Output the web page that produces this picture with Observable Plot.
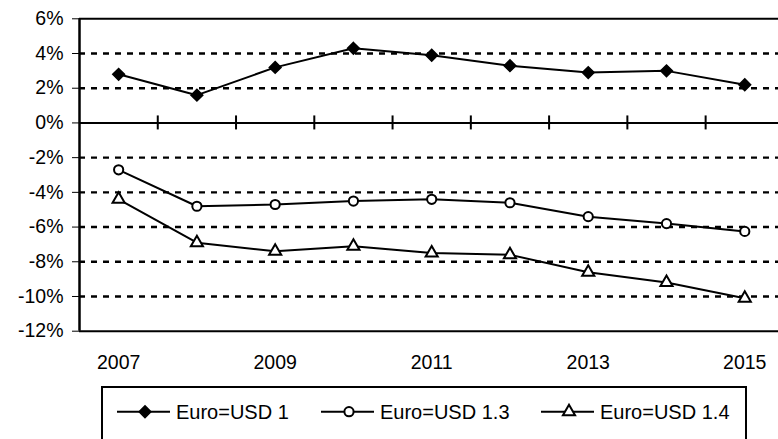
<!DOCTYPE html>
<html><head><meta charset="utf-8">
<script src="https://cdn.jsdelivr.net/npm/d3@7"></script>
<script src="https://cdn.jsdelivr.net/npm/@observablehq/plot@0.6"></script>
<style>
html,body{margin:0;padding:0;background:#fff;overflow:hidden;}
#wrap{position:relative;width:778px;height:439px;overflow:hidden;font-family:"Liberation Sans",Arial,sans-serif;}
#legend{position:absolute;left:0;top:380px;}
</style></head><body><div id="wrap"></div>
<script>
// ---- data ----
const years = [2007, 2008, 2009, 2010, 2011, 2012, 2013, 2014, 2015];
const yearLabels = [2007, 2009, 2011, 2013, 2015];
const seriesNames = ["Euro=USD 1", "Euro=USD 1.3", "Euro=USD 1.4"];
const usd1  = [2.8, 1.6, 3.2, 4.3, 3.9, 3.3, 2.9, 3.0, 2.2];
const usd13 = [-2.7, -4.8, -4.7, -4.5, -4.4, -4.6, -5.4, -5.8, -6.25];
const usd14 = [-4.4, -6.9, -7.4, -7.1, -7.5, -7.6, -8.6, -9.2, -10.1];
const yTicks = [-12, -10, -8, -6, -4, -2, 0, 2, 4, 6];

// ---- styles ----
const seriesValues = [usd1, usd13, usd14];
const seriesStyle = [
  {symbol: "diamond2", fill: "black", r: 5.3, sw: 1.5, d3sym: d3.symbolDiamond2},
  {symbol: "circle", fill: "white", r: 4.6, sw: 2, d3sym: d3.symbolCircle},
  {symbol: "triangle2", fill: "white", r: 5.8, sw: 2, d3sym: d3.symbolTriangle2}
];
const FONT = '"Liberation Sans", Arial, sans-serif';

const rows = seriesNames.flatMap((s, si) => years.map((yr, i) => ({series: s, si, year: yr, value: seriesValues[si][i]})));
const xMin = years[0] - 0.5, xMax = years[years.length - 1] + 0.5;
const yMin = yTicks[0], yMax = yTicks[yTicks.length - 1];
const bounds = years.slice(1).map(y => y - 0.5);
const gridVals = yTicks.filter(v => v !== 0 && v !== yMin && v !== yMax);

const marks = [
  Plot.ruleY(gridVals, {stroke: "black", strokeWidth: 2.4, strokeDasharray: "6,6"}),
  Plot.ruleY([yMin, yMax], {stroke: "black", strokeWidth: 2}),
  Plot.ruleY([0], {stroke: "black", strokeWidth: 2}),
  Plot.ruleX(bounds, {y: 0, insetTop: -7, insetBottom: -7, stroke: "black", strokeWidth: 2}),
  Plot.ruleX([xMin], {stroke: "black", strokeWidth: 2.5}),
  Plot.line(rows, {x: "year", y: "value", z: "series", stroke: "black", strokeWidth: 2})
];
seriesNames.forEach((s, si) => {
  const st = seriesStyle[si];
  marks.push(Plot.dot(rows.filter(d => d.si === si), {x: "year", y: "value", symbol: st.symbol, r: st.r, fill: st.fill, stroke: "black", strokeWidth: st.sw}));
});

const chart = Plot.plot({
  width: 778, height: 380,
  marginLeft: 79, marginRight: -5.4, marginTop: 18.3, marginBottom: 49.3,
  style: {fontFamily: FONT, fontSize: "19.5px", color: "black", background: "white", overflow: "hidden"},
  x: {type: "linear", domain: [xMin, xMax], ticks: yearLabels, tickFormat: d => String(d), tickSize: 0, tickPadding: 24, label: null},
  y: {domain: [yMin, yMax], ticks: yTicks, tickFormat: d => d + "%", tickSize: 7, tickPadding: 9, label: null},
  marks
});
document.getElementById("wrap").appendChild(chart);

// ---- legend ----
const legendX = [117, 321, 541];
const lg = d3.select("#wrap").append("svg").attr("id", "legend").attr("width", 778).attr("height", 70);
lg.append("rect").attr("x", 102).attr("y", 7).attr("width", 644).attr("height", 70)
  .attr("fill", "none").attr("stroke", "black").attr("stroke-width", 2);
const cy = 31.7;
seriesNames.forEach((s, si) => {
  const st = seriesStyle[si];
  const x0 = legendX[si];
  const g = lg.append("g");
  g.append("line").attr("x1", x0).attr("x2", x0 + 53).attr("y1", cy).attr("y2", cy).attr("stroke", "black").attr("stroke-width", 2);
  g.append("path").attr("d", d3.symbol(st.d3sym, Math.PI * st.r * st.r)())
    .attr("transform", `translate(${x0 + 28},${cy})`).attr("fill", st.fill).attr("stroke", "black").attr("stroke-width", st.sw);
  g.append("text").attr("x", x0 + 59).attr("y", cy).attr("dy", "0.36em").attr("font-family", FONT).attr("font-size", "20px").text(s);
});
</script>
</body></html>
